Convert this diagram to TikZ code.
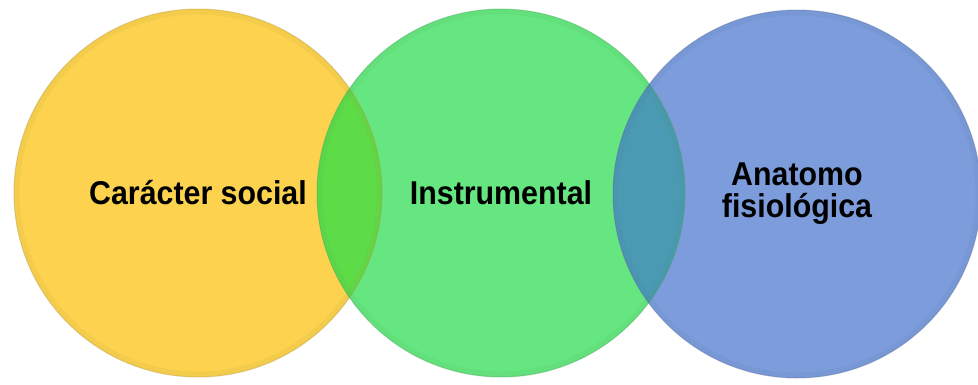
\documentclass[tikz,border=0pt]{standalone}
\usepackage{fontspec}
\newfontfamily\narrowsans[FakeStretch=0.92]{Liberation Sans}
\usepackage{xcolor}
\usepackage{tikz}

\definecolor{socialyellow}{HTML}{FCD24F}
\definecolor{instrgreen}{HTML}{66E680}
\definecolor{anatblue}{HTML}{7C9CDC}
\definecolor{mixgreen}{HTML}{5EDC48}
\definecolor{mixteal}{HTML}{4B9AB4}

\begin{document}
\begin{tikzpicture}[
    x=1pt, y=-1pt,
    bubble/.style={circle, minimum size=368pt, inner sep=0pt, align=center, text=black,
        font=\narrowsans\bfseries\fontsize{33}{32}\selectfont},
    rim/.style={draw=#1, line width=1pt, draw opacity=0.4},
    shade/.style={draw=#1, line width=5pt, draw opacity=0.07}
]
\useasboundingbox (0,0) rectangle (978,384);

% --- Circles ---
\node[bubble, fill=socialyellow] (social) at (198,193) {Carácter social};
\node[bubble, fill=instrgreen] (instr) at (501,193) {Instrumental};
\node[bubble, fill=anatblue] (anat) at (797,194) {Anatomo\\fisiológica};

% --- Overlaps ---
\begin{scope}
  \clip (social.center) circle (184pt);
  \fill[mixgreen] (instr.center) circle (184pt);
\end{scope}
\begin{scope}
  \clip (instr.center) circle (184pt);
  \fill[mixteal] (anat.center) circle (184pt);
\end{scope}

% --- Rims ---
\draw[shade=socialyellow!60!black] (social.center) circle (181pt);
\draw[shade=instrgreen!60!black] (instr.center) circle (181pt);
\draw[shade=anatblue!60!black] (anat.center) circle (181pt);
\draw[rim=socialyellow!70!black] (social.center) circle (184pt);
\draw[rim=instrgreen!70!black] (instr.center) circle (184pt);
\draw[rim=anatblue!70!black] (anat.center) circle (184pt);

\end{tikzpicture}
\end{document}
